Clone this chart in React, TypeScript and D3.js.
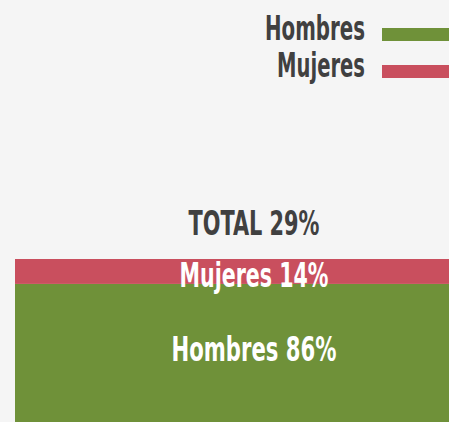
import * as d3 from "d3";

const categories = ["Hombres", "Mujeres"];
const shares = [86, 14];
const totalLabel = "TOTAL";
const totalValue = 29;

const colors = ["#6f9139", "#c94f5e"];

const width = 449;
const height = 422;
const font = "'Liberation Sans Narrow', 'DejaVu Sans Condensed', Roboto, sans-serif";

// widths the labels occupy in the original condensed face
const labelWidth: Record<string, number> = {
  Hombres: 100,
  Mujeres: 88,
  total: 131,
  "Hombres 86%": 165,
  "Mujeres 14%": 149,
};

export default function App() {
  const x = d3.scaleBand<string>().domain([totalLabel]).range([15, 493]).padding(0);
  const y = d3.scaleLinear().domain([0, 100]).range([437, 259]);

  const stack = d3
    .stack<Record<string, number>>()
    .keys(categories)([Object.fromEntries(categories.map((c, i) => [c, shares[i]]))]);

  const bx = x(totalLabel)!;
  const bw = x.bandwidth();
  const cx = bx + bw / 2;

  const legendX = 382;
  const legendY = d3.scalePoint<string>().domain(categories).range([40, 77]);

  const textStyle = {
    fontFamily: font,
    fontWeight: 700,
    fontSize: 33,
  } as const;

  return (
    <svg
      width={width}
      height={height}
      style={{ position: "fixed", left: 0, top: 0, background: "#f5f5f5" }}
    >
      <rect width={width} height={height} fill="#f5f5f5" />

      {stack.map((s, i) => (
        <rect
          key={s.key}
          x={bx}
          width={bw}
          y={y(s[0][1])}
          height={y(s[0][0]) - y(s[0][1])}
          fill={colors[i]}
        />
      ))}

      <text
        x={cx}
        y={y(100) - 24}
        textAnchor="middle"
        fill="#404040"
        textLength={labelWidth.total}
        lengthAdjust="spacingAndGlyphs"
        style={textStyle}
      >
        {`${totalLabel} ${totalValue}%`}
      </text>

      {stack.map((s, i) => {
        const label = `${s.key} ${shares[i]}%`;
        const top = y(s[0][1]);
        const off = i === 0 ? 77 : 28;
        return (
          <text
            key={label}
            x={cx}
            y={top + off}
            textAnchor="middle"
            fill="#ffffff"
            textLength={labelWidth[label]}
            lengthAdjust="spacingAndGlyphs"
            style={textStyle}
          >
            {label}
          </text>
        );
      })}

      {categories.map((c, i) => (
        <g key={c}>
          <text
            x={legendX - 17}
            y={legendY(c)!}
            textAnchor="end"
            fill="#404040"
            textLength={labelWidth[c]}
            lengthAdjust="spacingAndGlyphs"
            style={textStyle}
          >
            {c}
          </text>
          <rect x={legendX} y={legendY(c)! - 12} width={80} height={13} fill={colors[i]} />
        </g>
      ))}
    </svg>
  );
}
